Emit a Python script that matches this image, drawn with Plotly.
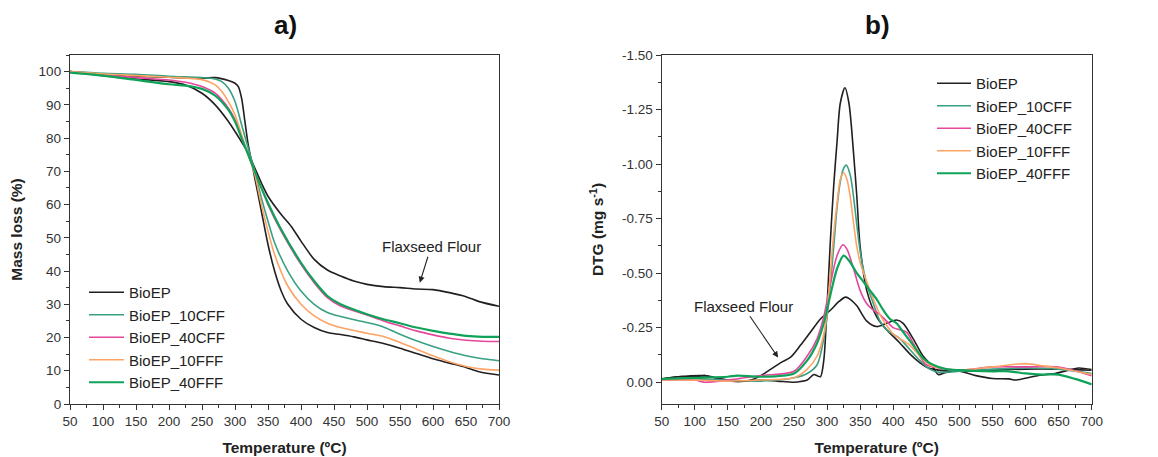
import plotly.graph_objects as go

# ---------------- Data: TGA (panel a) ----------------
T_bioep_a = [50, 100, 150, 200, 250, 270, 290, 300, 305, 310, 315, 320, 325, 330, 340, 350, 360, 370, 380, 400, 420, 440, 460, 480, 500, 525, 550, 575, 600, 625, 650, 670, 700]
M_bioep = [100, 99.2, 98.6, 98.3, 98.0, 98.2, 97.3, 96.5, 95.5, 92, 85, 78, 73, 68, 58, 48, 40, 34, 30, 25.5, 23, 21.5, 20.9, 20.2, 19.3, 18.2, 16.8, 15.2, 13.6, 12.3, 11.0, 9.7, 8.7]

T_flax_a = [50, 100, 150, 200, 225, 250, 270, 290, 300, 320, 330, 340, 350, 370, 385, 400, 420, 440, 460, 480, 500, 525, 550, 575, 600, 625, 650, 670, 700]
M_flax = [100, 98.8, 97.8, 97.0, 96.0, 93.5, 90, 85, 82, 75.5, 71, 66.5, 62.5, 57, 53.5, 49, 43.5, 40.3, 38.5, 37, 36, 35.3, 35, 34.6, 34.4, 33.5, 32.3, 30.8, 29.4]

T_std_a = [50, 100, 150, 200, 250, 270, 280, 290, 300, 310, 320, 330, 340, 350, 360, 380, 400, 420, 440, 460, 500, 525, 550, 575, 600, 625, 650, 675, 700]
M_10cff = [100, 99.5, 99.2, 98.6, 98.2, 97.8, 97, 95, 91, 84, 77, 70, 62, 55, 48.5, 40, 34, 30, 27.5, 26.3, 24.5, 23.2, 21, 19, 17.3, 15.8, 14.5, 13.6, 13]
M_10fff = [100, 99.3, 98.8, 98.3, 97.6, 96, 94, 91, 87, 81, 75, 69, 60, 52, 45, 35.5, 30, 26.5, 24.3, 23, 21.3, 20.3, 18.5, 16.5, 14.5, 12.7, 11.3, 10.5, 10.2]

T_40_a = [50, 100, 150, 200, 225, 250, 270, 290, 300, 310, 320, 330, 340, 350, 370, 400, 420, 440, 460, 500, 525, 550, 575, 600, 625, 650, 675, 700]
M_40cff = [100, 99, 98.2, 97.5, 96.8, 95.5, 93.5, 89, 85.5, 80, 75, 70, 65, 60, 52, 42, 36.5, 32, 29.5, 26.8, 25, 23.5, 22, 20.8, 19.8, 19.2, 18.9, 18.8]
M_40fff = [99.7, 98.8, 97.5, 96.2, 95.8, 94.8, 92.8, 88.5, 85, 80, 75, 70, 65, 60.5, 52.5, 42.5, 37, 32.5, 30, 27, 25.5, 24.3, 23, 22, 21.2, 20.5, 20.2, 20.2]

# ---------------- Data: DTG (panel b) ----------------
T_bioep_b = [50, 75, 100, 115, 130, 150, 160, 175, 200, 225, 250, 260, 270, 280, 285, 290, 295, 300, 305, 310, 315, 320, 327, 333, 340, 345, 350, 360, 375, 390, 400, 410, 425, 440, 450, 460, 480, 500, 550, 600, 650, 700]
D_bioep = [-0.015, -0.025, -0.025, -0.03, -0.02, -0.01, -0.003, -0.005, -0.01, -0.005, 0.0, -0.003, -0.01, -0.035, -0.03, -0.025, -0.1, -0.35, -0.65, -0.9, -1.1, -1.28, -1.35, -1.28, -1.05, -0.85, -0.62, -0.42, -0.3, -0.24, -0.21, -0.18, -0.13, -0.09, -0.07, -0.06, -0.052, -0.05, -0.055, -0.06, -0.06, -0.055]

T_flax_b = [50, 75, 115, 140, 165, 185, 200, 215, 230, 245, 260, 275, 290, 305, 318, 328, 335, 345, 360, 375, 390, 405, 415, 430, 445, 460, 468, 480, 500, 525, 550, 575, 585, 610, 630, 645, 665, 680, 700]
D_flax = [-0.015, -0.025, -0.03, -0.015, -0.003, -0.01, -0.03, -0.06, -0.09, -0.115, -0.17, -0.23, -0.29, -0.33, -0.37, -0.39, -0.38, -0.35, -0.28, -0.255, -0.27, -0.285, -0.27, -0.2, -0.12, -0.07, -0.035, -0.045, -0.05, -0.03, -0.017, -0.015, -0.01, -0.025, -0.035, -0.04, -0.055, -0.065, -0.058]

T_10cff_b = [50, 100, 150, 200, 250, 270, 285, 295, 300, 305, 310, 315, 320, 325, 329, 335, 340, 345, 350, 360, 370, 380, 390, 400, 410, 425, 440, 455, 470, 500, 550, 600, 650, 700]
D_10cff = [-0.01, -0.015, -0.01, -0.005, -0.02, -0.04, -0.08, -0.2, -0.3, -0.45, -0.62, -0.8, -0.92, -0.98, -0.995, -0.95, -0.85, -0.72, -0.6, -0.45, -0.36, -0.28, -0.24, -0.22, -0.2, -0.15, -0.1, -0.06, -0.045, -0.05, -0.06, -0.065, -0.06, -0.04]

T_10fff_b = [50, 100, 150, 200, 250, 270, 285, 295, 300, 305, 310, 315, 320, 325, 330, 335, 340, 345, 350, 360, 370, 380, 390, 400, 410, 425, 440, 455, 470, 500, 550, 600, 625, 650, 700]
D_10fff = [-0.01, -0.01, -0.005, -0.01, -0.02, -0.06, -0.12, -0.22, -0.32, -0.5, -0.68, -0.82, -0.93, -0.96, -0.93, -0.85, -0.73, -0.62, -0.55, -0.46, -0.38, -0.31, -0.26, -0.22, -0.2, -0.17, -0.12, -0.08, -0.065, -0.055, -0.07, -0.085, -0.075, -0.065, -0.035]

T_40cff_b = [50, 100, 115, 150, 200, 250, 270, 285, 295, 305, 315, 324, 330, 340, 350, 360, 370, 380, 390, 400, 410, 420, 430, 440, 450, 470, 500, 550, 600, 650, 700]
D_40cff = [-0.01, -0.01, 0.0, -0.01, -0.03, -0.05, -0.12, -0.2, -0.3, -0.45, -0.58, -0.63, -0.61, -0.52, -0.42, -0.36, -0.33, -0.31, -0.28, -0.25, -0.24, -0.23, -0.18, -0.12, -0.08, -0.065, -0.055, -0.07, -0.07, -0.07, -0.03]

T_40fff_b = [50, 100, 150, 165, 200, 250, 270, 285, 295, 305, 315, 325, 335, 345, 355, 365, 375, 385, 395, 405, 415, 430, 445, 460, 480, 500, 550, 575, 600, 625, 650, 675, 700]
D_40fff = [-0.015, -0.02, -0.025, -0.03, -0.025, -0.04, -0.1, -0.18, -0.27, -0.4, -0.52, -0.58, -0.55, -0.5, -0.46, -0.42, -0.38, -0.33, -0.29, -0.27, -0.23, -0.17, -0.11, -0.08, -0.06, -0.055, -0.05, -0.05, -0.04, -0.035, -0.035, -0.015, 0.01]

names = ["BioEP", "BioEP_10CFF", "BioEP_40CFF", "BioEP_10FFF", "BioEP_40FFF"]
colors = ["#231f20", "#3aa083", "#e5479c", "#fca365", "#0fa35a"]
widths = [1.6, 1.6, 1.6, 1.6, 2.2]

x_ticks = list(range(50, 701, 50))
y_ticks_a = list(range(0, 101, 10))
y_ticks_b = [-1.5, -1.25, -1.0, -0.75, -0.5, -0.25, 0.0]
y_ticklabels_b = ["-1.50", "-1.25", "-1.00", "-0.75", "-0.50", "-0.25", "0.00"]

fig = go.Figure()

series_a = [(T_bioep_a, M_bioep), (T_std_a, M_10cff), (T_40_a, M_40cff), (T_std_a, M_10fff), (T_40_a, M_40fff)]
series_b = [(T_bioep_b, D_bioep), (T_10cff_b, D_10cff), (T_40cff_b, D_40cff), (T_10fff_b, D_10fff), (T_40fff_b, D_40fff)]

# Flaxseed flour curves (no legend)
fig.add_trace(go.Scatter(x=T_flax_a, y=M_flax, mode="lines", line=dict(color=colors[0], width=1.6, shape="spline", smoothing=0.8),
                         showlegend=False, xaxis="x", yaxis="y"))
fig.add_trace(go.Scatter(x=T_flax_b, y=D_flax, mode="lines", line=dict(color=colors[0], width=1.6, shape="spline", smoothing=0.8),
                         showlegend=False, xaxis="x2", yaxis="y2"))

for i, (xs, ys) in enumerate(series_a):
    fig.add_trace(go.Scatter(x=xs, y=ys, mode="lines", name=names[i],
                             line=dict(color=colors[i], width=widths[i], shape="spline", smoothing=0.8),
                             xaxis="x", yaxis="y", legend="legend"))
for i, (xs, ys) in enumerate(series_b):
    fig.add_trace(go.Scatter(x=xs, y=ys, mode="lines", name=names[i],
                             line=dict(color=colors[i], width=widths[i], shape="spline", smoothing=0.8),
                             xaxis="x2", yaxis="y2", legend="legend2"))

# The page body adds an 8 px margin, so the figure is made 8 px smaller
# and screen positions are converted with this offset.
OFF = 8
W, H = 1158 - OFF, 457 - OFF

def px(x):
    return (x - OFF) / W

def py(y):
    return 1 - (y - OFF) / H

axcol = "#333333"
FAM = "Liberation Sans, Arial, sans-serif"
tickfont = dict(family=FAM, size=13.5, color="#333333")
titlefont = dict(family=FAM, size=15.5, color="#222222")

def xaxis_common(domain, anchor):
    return dict(domain=domain, anchor=anchor, range=[50, 700], tickvals=x_ticks, automargin=False,
                showline=True, linecolor=axcol, linewidth=1.3, mirror=True,
                ticks="outside", ticklen=5, tickwidth=1.1, tickcolor=axcol,
                minor=dict(ticks="outside", ticklen=3, tickwidth=1, tickcolor=axcol, dtick=25, tick0=50),
                showgrid=False, zeroline=False, tickfont=tickfont,
                title=dict(text="<b>Temperature (ºC)</b>", font=titlefont, standoff=13))

y_dom = [py(404), py(55)]

fig.update_layout(
    width=W, height=H,
    margin=dict(l=0, r=0, t=0, b=0, autoexpand=False),
    paper_bgcolor="white", plot_bgcolor="white",
    font=dict(family=FAM, color="#222222"),
    xaxis=xaxis_common([px(70), px(499)], "y"),
    xaxis2=xaxis_common([px(661.7), px(1091.7)], "y2"),
    yaxis=dict(domain=y_dom, anchor="x", range=[0, 105], tickvals=y_ticks_a, automargin=False,
               showline=True, linecolor=axcol, linewidth=1.3, mirror=True,
               ticks="outside", ticklen=5, tickwidth=1.1, tickcolor=axcol,
               minor=dict(ticks="outside", ticklen=3, tickwidth=1, tickcolor=axcol, dtick=5, tick0=0),
               showgrid=False, zeroline=False, tickfont=tickfont,
               title=dict(text="<b>Mass loss (%)</b>", font=titlefont, standoff=12)),
    yaxis2=dict(domain=y_dom, anchor="x2", range=[0.1, -1.5], tickvals=y_ticks_b, ticktext=y_ticklabels_b, automargin=False,
                showline=True, linecolor=axcol, linewidth=1.3, mirror=True,
                ticks="outside", ticklen=5, tickwidth=1.1, tickcolor=axcol,
                minor=dict(ticks="outside", ticklen=3, tickwidth=1, tickcolor=axcol, dtick=0.125, tick0=0),
                showgrid=False, zeroline=False, tickfont=tickfont,
                title=dict(text="<b>DTG (mg s<sup>-1</sup>)</b>", font=titlefont, standoff=14)),
    legend=dict(x=px(84), y=py(276), xanchor="left", yanchor="top", bgcolor="rgba(0,0,0,0)",
                font=dict(family=FAM, size=15, color="#222222"),
                tracegroupgap=0, itemwidth=35),
    legend2=dict(x=px(932), y=py(67), xanchor="left", yanchor="top", bgcolor="rgba(0,0,0,0)",
                 font=dict(family=FAM, size=15, color="#222222"),
                 tracegroupgap=0, itemwidth=34),
    annotations=[
        dict(text="<b>a)</b>", xref="paper", yref="paper", x=px(285), y=py(25), xanchor="center", yanchor="middle",
             showarrow=False, font=dict(family=FAM, size=26, color="#111111")),
        dict(text="<b>b)</b>", xref="paper", yref="paper", x=px(877), y=py(25), xanchor="center", yanchor="middle",
             showarrow=False, font=dict(family=FAM, size=26, color="#111111")),
        dict(text="Flaxseed Flour", xref="x", yref="y", x=580, y=36.5, axref="x", ayref="y", ax=597, ay=47.3,
             showarrow=True, arrowhead=2, arrowsize=1.1, arrowwidth=1.1, arrowcolor="#222222",
             font=dict(family=FAM, size=15, color="#222222")),
        dict(text="Flaxseed Flour", xref="x2", yref="y2", x=226, y=-0.113, axref="x2", ayref="y2", ax=173, ay=-0.348,
             showarrow=True, arrowhead=2, arrowsize=1.1, arrowwidth=1.1, arrowcolor="#222222",
             font=dict(family=FAM, size=15, color="#222222")),
    ],
)

fig.write_html("out.html")
